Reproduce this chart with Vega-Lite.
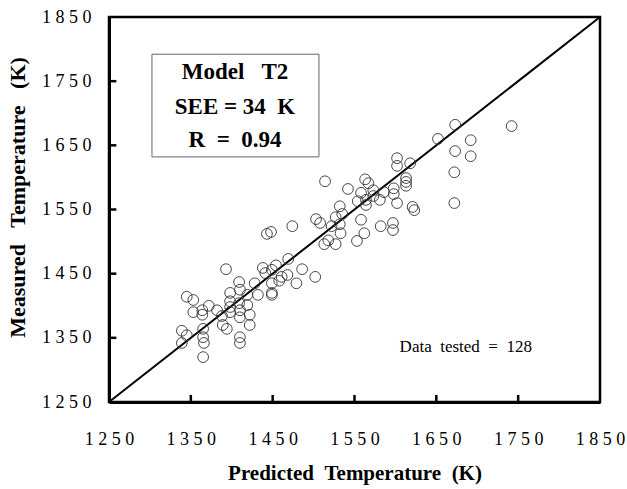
{
  "$schema": "https://vega.github.io/schema/vega-lite/v6.json",
  "width": 491,
  "height": 385,
  "autosize": "none",
  "padding": {"left": 109, "top": 17, "right": 27, "bottom": 87},
  "background": "white",
  "config": {
    "view": {"stroke": "black", "strokeWidth": 2.5},
    "font": "Liberation Serif"
  },
  "layer": [
    {
      "data": {"values": [{"x1": 1302.5, "x2": 1506.6, "y1": 1632, "y2": 1792}]},
      "mark": {"type": "rect", "fill": "white", "stroke": "#666666", "strokeWidth": 1},
      "encoding": {
        "x": {"field": "x1", "type": "quantitative", "scale": {"domain": [1250, 1850], "nice": false, "zero": false}},
        "x2": {"field": "x2"},
        "y": {"field": "y1", "type": "quantitative", "scale": {"domain": [1250, 1850], "nice": false, "zero": false}},
        "y2": {"field": "y2"}
      }
    },
    {
      "data": {"values": [{"p": 1250, "m": 1250}, {"p": 1850, "m": 1850}]},
      "mark": {"type": "line", "color": "black", "strokeWidth": 2},
      "encoding": {
        "x": {"field": "p", "type": "quantitative"},
        "y": {"field": "m", "type": "quantitative"}
      }
    },
    {
      "data": {"values": [
        {"v": 1350, "lo": 1250, "hi": 1261}, {"v": 1450, "lo": 1250, "hi": 1261},
        {"v": 1550, "lo": 1250, "hi": 1261}, {"v": 1650, "lo": 1250, "hi": 1261},
        {"v": 1750, "lo": 1250, "hi": 1261}
      ]},
      "mark": {"type": "rule", "color": "black", "strokeWidth": 2.5},
      "encoding": {
        "x": {"field": "v", "type": "quantitative"},
        "y": {"field": "lo", "type": "quantitative"},
        "y2": {"field": "hi"}
      }
    },
    {
      "data": {"values": [
        {"v": 1350, "lo": 1250, "hi": 1259}, {"v": 1450, "lo": 1250, "hi": 1259},
        {"v": 1550, "lo": 1250, "hi": 1259}, {"v": 1650, "lo": 1250, "hi": 1259},
        {"v": 1750, "lo": 1250, "hi": 1259}
      ]},
      "mark": {"type": "rule", "color": "black", "strokeWidth": 2.5},
      "encoding": {
        "y": {"field": "v", "type": "quantitative"},
        "x": {"field": "lo", "type": "quantitative"},
        "x2": {"field": "hi"}
      }
    },
    {
      "data": {"values": [
        {"p": 1339, "m": 1361}, {"p": 1345, "m": 1354}, {"p": 1339, "m": 1342}, {"p": 1345, "m": 1414},
        {"p": 1353, "m": 1409}, {"p": 1353, "m": 1390}, {"p": 1364, "m": 1393}, {"p": 1364, "m": 1386},
        {"p": 1365, "m": 1364}, {"p": 1365, "m": 1351}, {"p": 1366, "m": 1342}, {"p": 1365, "m": 1320},
        {"p": 1372, "m": 1400}, {"p": 1382, "m": 1393}, {"p": 1388, "m": 1384}, {"p": 1389, "m": 1370},
        {"p": 1394, "m": 1364}, {"p": 1393, "m": 1457}, {"p": 1398, "m": 1420}, {"p": 1398, "m": 1407},
        {"p": 1398, "m": 1398}, {"p": 1398, "m": 1390}, {"p": 1409, "m": 1437}, {"p": 1410, "m": 1425},
        {"p": 1409, "m": 1404}, {"p": 1410, "m": 1393}, {"p": 1410, "m": 1382}, {"p": 1410, "m": 1351},
        {"p": 1410, "m": 1342}, {"p": 1419, "m": 1417}, {"p": 1419, "m": 1401}, {"p": 1422, "m": 1386},
        {"p": 1422, "m": 1370}, {"p": 1428, "m": 1435}, {"p": 1432, "m": 1417}, {"p": 1438, "m": 1459},
        {"p": 1441, "m": 1451}, {"p": 1449, "m": 1456}, {"p": 1449, "m": 1435}, {"p": 1449, "m": 1417},
        {"p": 1454, "m": 1463}, {"p": 1461, "m": 1445}, {"p": 1468, "m": 1448}, {"p": 1469, "m": 1473},
        {"p": 1479, "m": 1435}, {"p": 1486, "m": 1457}, {"p": 1502, "m": 1445}, {"p": 1443, "m": 1512},
        {"p": 1448, "m": 1515}, {"p": 1458, "m": 1439}, {"p": 1474, "m": 1524}, {"p": 1503, "m": 1535},
        {"p": 1508, "m": 1529}, {"p": 1527, "m": 1538}, {"p": 1522, "m": 1524}, {"p": 1532, "m": 1527},
        {"p": 1533, "m": 1513}, {"p": 1532, "m": 1555}, {"p": 1513, "m": 1496}, {"p": 1527, "m": 1496},
        {"p": 1518, "m": 1502}, {"p": 1553, "m": 1501}, {"p": 1562, "m": 1513}, {"p": 1558, "m": 1534},
        {"p": 1582, "m": 1524}, {"p": 1597, "m": 1529}, {"p": 1597, "m": 1518}, {"p": 1554, "m": 1563},
        {"p": 1564, "m": 1565}, {"p": 1564, "m": 1557}, {"p": 1581, "m": 1565}, {"p": 1602, "m": 1560},
        {"p": 1621, "m": 1554}, {"p": 1623, "m": 1549}, {"p": 1514, "m": 1594}, {"p": 1563, "m": 1597},
        {"p": 1567, "m": 1591}, {"p": 1542, "m": 1582}, {"p": 1558, "m": 1576}, {"p": 1573, "m": 1580},
        {"p": 1573, "m": 1571}, {"p": 1586, "m": 1577}, {"p": 1598, "m": 1583}, {"p": 1598, "m": 1574},
        {"p": 1613, "m": 1599}, {"p": 1613, "m": 1593}, {"p": 1613, "m": 1587}, {"p": 1602, "m": 1630},
        {"p": 1602, "m": 1618}, {"p": 1618, "m": 1622}, {"p": 1652, "m": 1660}, {"p": 1673, "m": 1682},
        {"p": 1742, "m": 1680}, {"p": 1692, "m": 1658}, {"p": 1673, "m": 1641}, {"p": 1692, "m": 1633},
        {"p": 1672, "m": 1608}, {"p": 1672, "m": 1560}, {"p": 1535, "m": 1543}, {"p": 1449, "m": 1420}
      ]},
      "mark": {"type": "point", "shape": "circle", "filled": false, "stroke": "#333333", "strokeWidth": 0.9, "size": 115, "opacity": 1},
      "encoding": {
        "x": {
          "field": "p", "type": "quantitative",
          "scale": {"domain": [1250, 1850], "nice": false, "zero": false},
          "axis": {
            "values": [1250, 1350, 1450, 1550, 1650, 1750, 1850],
            "format": "d",
            "labelExpr": "join(split(datum.label, ''), '\u00a0')",
            "labelFont": "Liberation Serif", "labelFontSize": 18, "labelColor": "black",
            "labelFlush": false, "labelOverlap": false, "labelBound": false,
            "labelPadding": 28,
            "ticks": false,
            "domainColor": "black", "domainWidth": 3,
            "grid": false,
            "title": "Predicted\u00a0\u00a0Temperature\u00a0\u00a0(K)",
            "titleFont": "Liberation Serif", "titleFontSize": 21, "titleFontWeight": "bold", "titleColor": "black",
            "titlePadding": 14
          }
        },
        "y": {
          "field": "m", "type": "quantitative",
          "scale": {"domain": [1250, 1850], "nice": false, "zero": false},
          "axis": {
            "values": [1250, 1350, 1450, 1550, 1650, 1750, 1850],
            "format": "d",
            "labelExpr": "join(split(datum.label, ''), '\u00a0')",
            "labelFont": "Liberation Serif", "labelFontSize": 18, "labelColor": "black",
            "labelFlush": false, "labelOverlap": false, "labelBound": false,
            "labelPadding": 18,
            "ticks": false,
            "domainColor": "black", "domainWidth": 3,
            "grid": false,
            "title": "Measured\u00a0\u00a0\u00a0Temperature\u00a0\u00a0\u00a0(K)",
            "titleFont": "Liberation Serif", "titleFontSize": 22, "titleFontWeight": "bold", "titleColor": "black",
            "titlePadding": 12,
            "titleY": 180
          }
        }
      }
    },
    {
      "data": {"values": [
        {"p": 1404, "m": 1764, "t": "Model\u00a0\u00a0\u00a0T2"},
        {"p": 1404, "m": 1710, "t": "SEE\u00a0=\u00a034\u00a0\u00a0K"},
        {"p": 1404, "m": 1658, "t": "R\u00a0\u00a0=\u00a0\u00a00.94"}
      ]},
      "mark": {"type": "text", "font": "Liberation Serif", "fontWeight": "bold", "fontSize": 23, "color": "black", "align": "center", "baseline": "middle"},
      "encoding": {
        "x": {"field": "p", "type": "quantitative"},
        "y": {"field": "m", "type": "quantitative"},
        "text": {"field": "t"}
      }
    },
    {
      "data": {"values": [
        {"p": 1686, "m": 1336, "t": "Data\u00a0\u00a0tested\u00a0\u00a0=\u00a0\u00a0128"}
      ]},
      "mark": {"type": "text", "font": "Liberation Serif", "fontWeight": "normal", "fontSize": 17, "color": "black", "align": "center", "baseline": "middle"},
      "encoding": {
        "x": {"field": "p", "type": "quantitative"},
        "y": {"field": "m", "type": "quantitative"},
        "text": {"field": "t"}
      }
    }
  ]
}
